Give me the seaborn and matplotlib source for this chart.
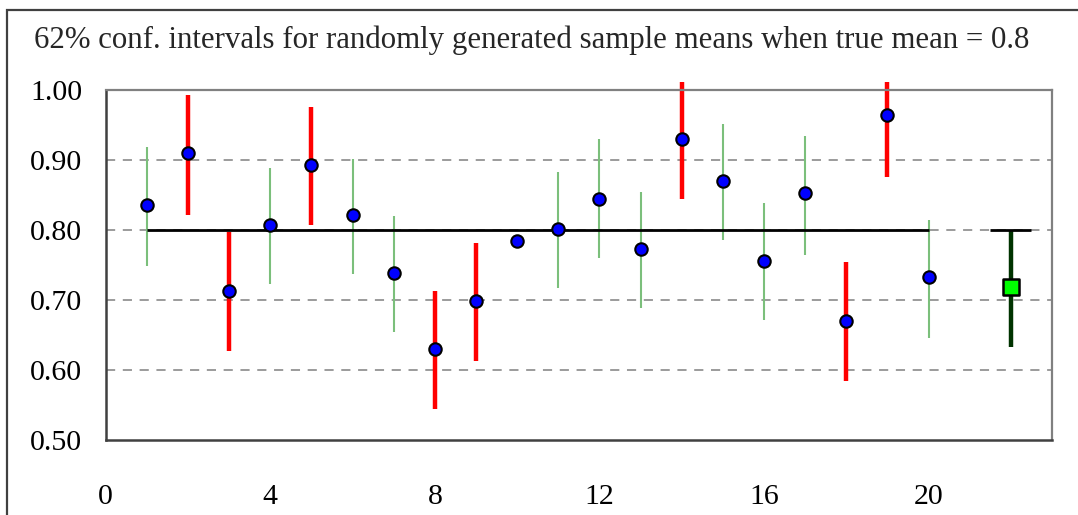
import numpy as np
import pandas as pd
import matplotlib
matplotlib.use("Agg")
import matplotlib.pyplot as plt
import seaborn as sns
from matplotlib.patches import Rectangle

# ---- data ----
sample_idx = list(range(1, 21))
sample_means = [0.836, 0.910, 0.713, 0.807, 0.893, 0.821, 0.739, 0.630, 0.699, 0.785,
                0.802, 0.845, 0.773, 0.930, 0.870, 0.756, 0.853, 0.670, 0.965, 0.733]
ci_lower = [0.749, 0.821, 0.627, 0.723, 0.807, 0.737, 0.655, 0.544, 0.613, np.nan,
            0.717, 0.760, 0.689, 0.844, 0.786, 0.671, 0.765, 0.584, 0.876, 0.646]
ci_upper = [0.918, 0.993, 0.797, 0.889, 0.976, 0.902, 0.820, 0.713, 0.782, np.nan,
            0.883, 0.930, 0.855, 1.012, 0.951, 0.838, 0.935, 0.754, 1.012, 0.814]
true_mean = 0.8
extra_x = [22]
extra_mean = [0.719]
extra_lower = [0.633]
extra_upper = [0.800]
y_ticks = [0.50, 0.60, 0.70, 0.80, 0.90, 1.00]
x_ticks = [0, 4, 8, 12, 16, 20]
title = "62% conf. intervals for randomly generated sample means when true mean = 0.8"

df = pd.DataFrame({"x": sample_idx, "mean": sample_means, "lo": ci_lower, "hi": ci_upper})
df["miss"] = (df["lo"] > true_mean) | (df["hi"] < true_mean)

sns.set_style("white")
plt.rcParams["font.family"] = ["Liberation Serif", "DejaVu Serif"]

fig = plt.figure(figsize=(10.78, 5.15), dpi=100)
ax = fig.add_axes([105.7 / 1078, 1 - 440 / 515, (1052 - 105.7) / 1078, (440 - 90) / 515])

# gridlines
for yv in y_ticks[1:-1]:
    ax.axhline(yv, color="#808080", lw=1.1, ls=(0, (6, 5)), zorder=0)

# confidence intervals
hit = df[~df["miss"]].dropna()
miss = df[df["miss"]]
ax.vlines(hit["x"], hit["lo"], hit["hi"], color="#7bbf7b", lw=1.5, zorder=2)
ax.vlines(miss["x"], miss["lo"], miss["hi"], color="#ff0000", lw=3.2, zorder=2,
          clip_on=False)
ax.vlines(extra_x, extra_lower, extra_upper, color="#003300", lw=3.2, zorder=2)

# true mean line
ax.hlines(true_mean, sample_idx[0], sample_idx[-1], color="black", lw=2.0, zorder=3)
ax.hlines(true_mean, extra_x[0] - 0.5, extra_x[0] + 0.5, color="black", lw=2.0, zorder=3)

# points
sns.scatterplot(data=df, x="x", y="mean", ax=ax, color="#0000ff", edgecolor="black",
                linewidth=1.5, s=80, zorder=4, clip_on=False, legend=False)
sns.scatterplot(x=extra_x, y=extra_mean, ax=ax, color="#00ff00", edgecolor="black",
                marker="s", linewidth=1.8, s=125, zorder=4, legend=False)

ax.set_xlim(0, 23)
ax.set_ylim(0.5, 1.0)
ax.set_xticks(x_ticks)
ax.set_yticks(y_ticks)
ax.set_yticklabels([f"{v:.2f}" for v in y_ticks])
ax.set_xlabel("")
ax.set_ylabel("")
ax.tick_params(axis="both", direction="out", labelsize=21.5, colors="#555555",
               labelcolor="black", width=1.2)
ax.tick_params(axis="y", length=7, pad=10)
ax.tick_params(axis="x", length=8, pad=24)

for side in ["left", "bottom"]:
    ax.spines[side].set_color("#404040")
    ax.spines[side].set_linewidth(1.8)
for side in ["top", "right"]:
    ax.spines[side].set_color("#808080")
    ax.spines[side].set_linewidth(1.6)
    ax.spines[side].set_visible(True)

fig.text(0.4935, 1 - 40 / 515, title, ha="center", va="center", fontsize=22.2)

# chart-area border (cropped on right/bottom)
fig.patches.append(Rectangle((7.3 / 1078, -0.05), 1.1, 1 - 10 / 515 + 0.05,
                             transform=fig.transFigure, fill=False,
                             edgecolor="#404040", lw=1.6))

fig.savefig("out.png", dpi=100)
